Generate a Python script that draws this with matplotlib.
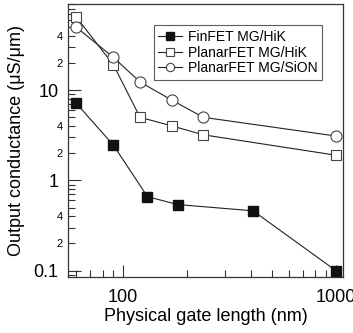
import numpy as np
import matplotlib
matplotlib.use("Agg")
import matplotlib.pyplot as plt
from matplotlib.ticker import LogLocator, FuncFormatter, FixedLocator

plt.rcParams['font.family'] = ['Liberation Sans', 'DejaVu Sans']

fin_x = [60, 90, 130, 180, 408, 1000]
fin_y = [7.2, 2.45, 0.66, 0.54, 0.46, 0.1]

hik_x = [60, 90, 120, 170, 238, 1000]
hik_y = [65, 19, 5.0, 4.0, 3.2, 1.9]

sion_x = [60, 90, 120, 170, 238, 1000]
sion_y = [50, 23, 12.3, 7.7, 5.0, 3.1]

labels = ["FinFET MG/HiK", "PlanarFET MG/HiK", "PlanarFET MG/SiON"]

fig = plt.figure(figsize=(3.53, 3.33), dpi=100)
ax = fig.add_axes([68 / 353, 1 - 277 / 333, 275 / 353, 273 / 333])

lw = 0.8
ax.plot(fin_x, fin_y, color="#222222", lw=lw, marker="s", ms=7.5,
        mfc="#111111", mec="#111111", label=labels[0])
ax.plot(hik_x, hik_y, color="#222222", lw=lw, marker="s", ms=7.5,
        mfc="white", mec="#444444", mew=0.8, label=labels[1])
ax.plot(sion_x, sion_y, color="#222222", lw=lw, marker="o", ms=8,
        mfc="white", mec="#444444", mew=0.8, label=labels[2])

ax.set_xscale("log")
ax.set_yscale("log")
ax.set_xlim(55, 1080)
ax.set_ylim(0.085, 90)

ax.xaxis.set_major_locator(FixedLocator([100, 1000]))
ax.xaxis.set_minor_locator(LogLocator(base=10, subs=np.arange(2, 10)))
ax.xaxis.set_major_formatter(FuncFormatter(lambda v, p: f"{v:g}"))
ax.xaxis.set_minor_formatter(FuncFormatter(lambda v, p: ""))

ax.yaxis.set_major_locator(FixedLocator([0.1, 1, 10]))
ax.yaxis.set_minor_locator(LogLocator(base=10, subs=np.arange(2, 10)))
ax.yaxis.set_major_formatter(FuncFormatter(lambda v, p: f"{v:g}"))


def minor_fmt(v, p):
    m = round(v / 10 ** np.floor(np.log10(v) + 1e-9))
    return str(m) if m in (2, 4) else ""


ax.yaxis.set_minor_formatter(FuncFormatter(minor_fmt))

ax.tick_params(which="both", direction="in", top=False, right=False,
               color="#333333", width=0.8)
ax.tick_params(which="major", length=9, labelsize=13, pad=7)
ax.tick_params(which="minor", length=5, labelsize=8, pad=4)
ax.tick_params(axis="x", which="major", pad=9)
for s in ax.spines.values():
    s.set_color("#333333")
    s.set_linewidth(0.9)

ax.set_xlabel("Physical gate length (nm)", fontsize=13, labelpad=1)
ax.set_ylabel("Output conductance (\u03bcS/\u03bcm)", fontsize=13, labelpad=6)

leg = ax.legend(loc="upper right", bbox_to_anchor=(0.924, 0.923), fontsize=10,
                frameon=True, fancybox=False, edgecolor="#333333",
                handlelength=1.7, handletextpad=0.4, borderpad=0.35,
                labelspacing=0.12, borderaxespad=0)
leg.get_frame().set_linewidth(0.8)
for h in leg.legend_handles:
    h.set_markersize(6)

fig.savefig("out.png", dpi=100)
